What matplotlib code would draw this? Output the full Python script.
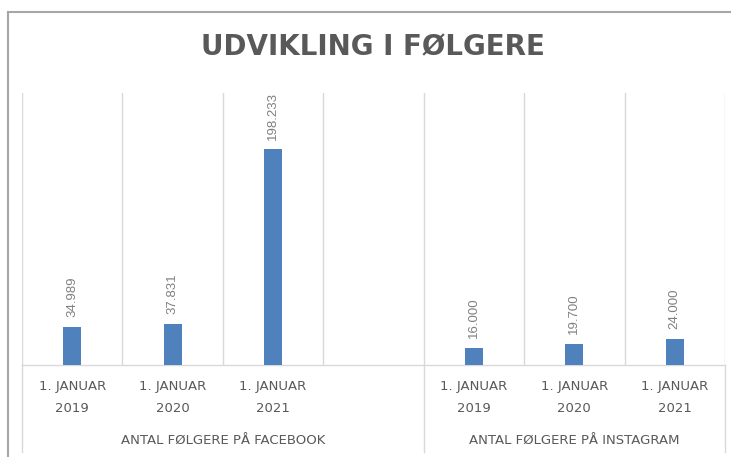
import numpy as np
import matplotlib.pyplot as plt
import matplotlib.transforms as mtransforms
from matplotlib.lines import Line2D


DATES = ["1. JANUAR\n2019", "1. JANUAR\n2020", "1. JANUAR\n2021"]
GROUPS = ["ANTAL FØLGERE PÅ FACEBOOK", "ANTAL FØLGERE PÅ INSTAGRAM"]
FACEBOOK = [34989, 37831, 198233]
INSTAGRAM = [16000, 19700, 24000]

BAR_COLOR = "#4F81BD"
GRID_COLOR = "#D9D9D9"
TEXT_COLOR = "#595959"
LABEL_COLOR = "#808080"


def fmt_dk(v):
    # Danish thousands separator
    return f"{v:,.0f}".replace(",", ".")


# one empty slot between the two groups (like the Excel source)
values = FACEBOOK + [np.nan] + INSTAGRAM
ticklabels = DATES + [""] + DATES
x = np.arange(len(values))

fig = plt.figure(figsize=(7.31, 4.57), dpi=100)
ax = fig.add_axes([22 / 731, 92 / 457, 703 / 731, 272 / 457])

ax.bar(x, values, width=0.18, color=BAR_COLOR, zorder=3)

for xi, v in zip(x, values):
    if np.isnan(v):
        continue
    ax.annotate(fmt_dk(v), (xi, v), xytext=(0, 7), textcoords="offset points",
                rotation=90, ha="center", va="bottom", fontsize=9.5,
                color=LABEL_COLOR, family="Liberation Sans")

ax.set_xlim(-0.5, len(values) - 0.5)
ax.set_ylim(0, 250000)
ax.set_yticks([])

ax.set_xticks(x)
ax.set_xticklabels(ticklabels, fontsize=9.5, color=TEXT_COLOR, linespacing=1.95)
ax.set_xticks(np.arange(-0.5, len(values)), minor=True)
ax.tick_params(axis="x", which="both", length=0, pad=10.5)
ax.grid(which="minor", axis="x", color=GRID_COLOR, linewidth=1, zorder=0)
for gl in ax.xaxis.get_minorticklines() + ax.xaxis.get_gridlines():
    gl.set_clip_on(False)

for side in ["left", "right", "top"]:
    ax.spines[side].set_visible(False)
ax.spines["bottom"].set_color(GRID_COLOR)
ax.spines["bottom"].set_linewidth(1)

# group separators below the axis + group names
trans = mtransforms.blended_transform_factory(ax.transData, ax.transAxes)
edges = [-0.5, 3.5, len(values) - 0.5]
for e in edges:
    ax.plot([e, e], [0, -0.32], color=GRID_COLOR, linewidth=1,
            transform=trans, clip_on=False)
for name, a, b in zip(GROUPS, edges[:-1], edges[1:]):
    ax.text((a + b) / 2, -0.281, name, transform=trans, ha="center",
            va="center", fontsize=9.5, color=TEXT_COLOR)

fig.text(373 / 731, 1 - 47 / 457, "UDVIKLING I FØLGERE", ha="center",
         va="center", fontsize=20, fontweight="bold", color=TEXT_COLOR)

# chart frame (left and top edge visible in the crop)
fig.add_artist(Line2D([8 / 731, 8 / 731], [0, 1 - 12 / 457], color="#A6A6A6",
                      linewidth=1.5, transform=fig.transFigure))
fig.add_artist(Line2D([8 / 731, 1], [1 - 12 / 457, 1 - 12 / 457], color="#A6A6A6",
                      linewidth=1.5, transform=fig.transFigure))

fig.savefig("out.png", dpi=100)
